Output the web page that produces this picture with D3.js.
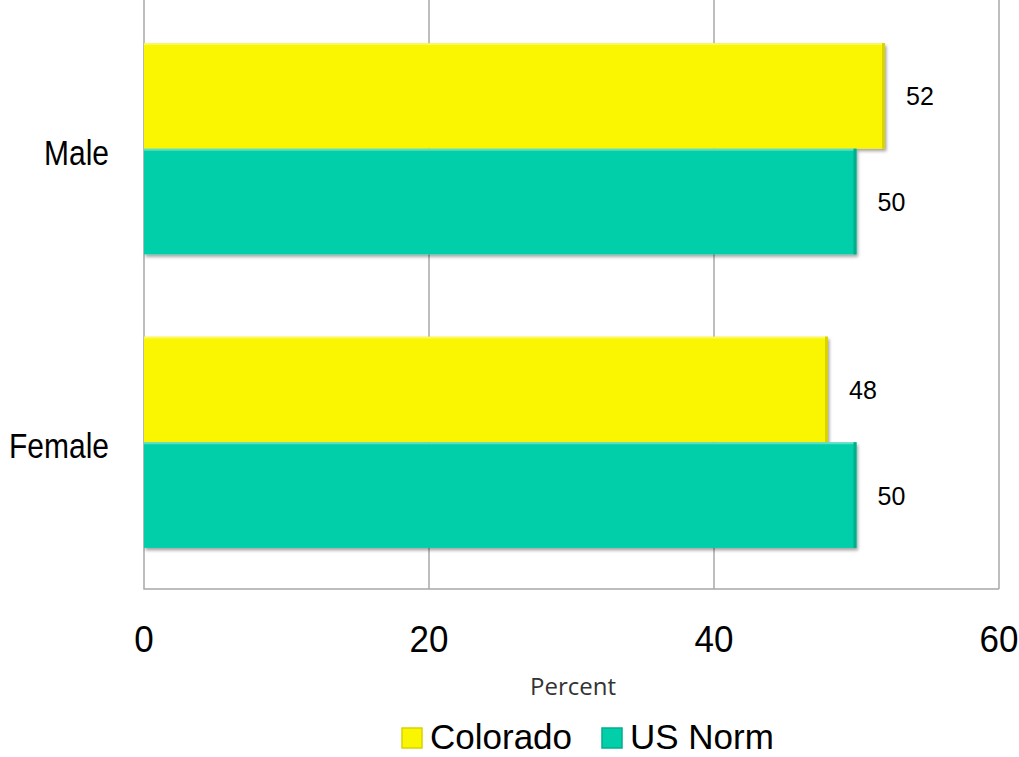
<!DOCTYPE html>
<html>
<head>
<meta charset="utf-8">
<script src="https://cdn.jsdelivr.net/npm/d3@7"></script>
<style>
  html, body { margin: 0; padding: 0; background: #ffffff; }
  svg { display: block; }
</style>
</head>
<body>
<svg id="chart" width="1019" height="757"></svg>
<script>
// Gender split, Colorado vs US norm (percent)
const categories = ["Male", "Female"];
const seriesNames = ["Colorado", "US Norm"];
const coloradoValues = [52, 48];
const usNormValues = [50, 50];
const xTicks = [0, 20, 40, 60];
const seriesColors = ["#FAF500", "#00CFAA"];
const edgeColors = ["#D9D300", "#00AE8E"];
const axisTitle = "Percent";

const rows = categories.map((c, i) => ({
  category: c,
  values: [
    { series: seriesNames[0], value: coloradoValues[i], idx: 0 },
    { series: seriesNames[1], value: usNormValues[i], idx: 1 }
  ]
}));

const svg = d3.select("#chart");
const plotLeft = 144, plotRight = 999, plotTop = 2, plotBottom = 589;

const x = d3.scaleLinear().domain([0, 60]).range([plotLeft, plotRight]);
const y0 = d3.scaleBand().domain(categories).range([plotTop, plotBottom])
  .paddingInner(0.28).paddingOuter(0.14);
const y1 = d3.scaleBand().domain(seriesNames).range([0, y0.bandwidth()]);

// soft drop shadow under the bars
const defs = svg.append("defs");
const f = defs.append("filter").attr("id", "shadow")
  .attr("x", "-5%").attr("y", "-10%").attr("width", "115%").attr("height", "130%");
f.append("feDropShadow").attr("dx", 1.5).attr("dy", 2.5)
  .attr("stdDeviation", 1.8).attr("flood-color", "#000").attr("flood-opacity", 0.35);

// vertical gridlines
svg.append("g").selectAll("line")
  .data(xTicks.filter(t => t > 0))
  .join("line")
  .attr("x1", d => x(d)).attr("x2", d => x(d))
  .attr("y1", 0).attr("y2", plotBottom)
  .attr("stroke", "#a8a8a8").attr("stroke-width", 1.5);

// axis frame (left and bottom)
svg.append("path")
  .attr("d", `M${plotLeft},0V${plotBottom}H${plotRight}`)
  .attr("fill", "none").attr("stroke", "#a8a8a8").attr("stroke-width", 1.5);

// bars
const groups = svg.append("g").selectAll("g")
  .data(rows).join("g")
  .attr("transform", d => `translate(0,${y0(d.category)})`);

const bars = groups.selectAll("g.bar")
  .data(d => d.values).join("g").attr("class", "bar");

bars.append("rect")
  .attr("x", x(0))
  .attr("y", d => y1(d.series))
  .attr("width", d => x(d.value) - x(0))
  .attr("height", y1.bandwidth())
  .attr("fill", d => seriesColors[d.idx])
  .attr("filter", "url(#shadow)");

// bevel: darker right edge, lighter top edge
bars.append("rect")
  .attr("x", d => x(d.value) - 3)
  .attr("y", d => y1(d.series))
  .attr("width", 3)
  .attr("height", y1.bandwidth())
  .attr("fill", d => edgeColors[d.idx]);
bars.append("rect")
  .attr("x", x(0))
  .attr("y", d => y1(d.series))
  .attr("width", d => x(d.value) - x(0) - 3)
  .attr("height", 2)
  .attr("fill", "#ffffff").attr("opacity", 0.35);

// value labels
bars.append("text")
  .attr("x", d => x(d.value) + 21)
  .attr("y", d => y1(d.series) + y1.bandwidth() / 2)
  .attr("dy", "0.38em")
  .attr("font-family", "Liberation Sans, Arial, sans-serif")
  .attr("font-size", 25)
  .attr("fill", "#000")
  .text(d => d.value);

// category labels
svg.append("g").selectAll("text")
  .data(categories).join("text")
  .attr("transform", d => `translate(109,${y0(d) + y0.bandwidth() / 2 + 16}) scale(1,1.15)`)
  .attr("text-anchor", "end")
  .attr("font-family", "Liberation Sans, Arial, sans-serif")
  .attr("font-size", 30)
  .attr("fill", "#000")
  .text(d => d);

// x tick labels
svg.append("g").selectAll("text")
  .data(xTicks).join("text")
  .attr("transform", d => `translate(${x(d)},652) scale(1,1.08)`)
  .attr("text-anchor", "middle")
  .attr("font-family", "Liberation Sans, Arial, sans-serif")
  .attr("font-size", 35)
  .attr("fill", "#000")
  .text(d => d);

// axis title
svg.append("text")
  .attr("x", 573).attr("y", 695)
  .attr("text-anchor", "middle")
  .attr("font-family", "Open Sans, sans-serif")
  .attr("font-size", 24)
  .attr("fill", "#333")
  .text(axisTitle);

// legend
const legendItems = [
  { name: seriesNames[0], sx: 402, tx: 430, idx: 0 },
  { name: seriesNames[1], sx: 602, tx: 630, idx: 1 }
];
const lg = svg.append("g").selectAll("g").data(legendItems).join("g");
lg.append("rect")
  .attr("x", d => d.sx).attr("y", 728)
  .attr("width", 20).attr("height", 20)
  .attr("fill", d => seriesColors[d.idx])
  .attr("stroke", d => edgeColors[d.idx]).attr("stroke-width", 1.5);
lg.append("text")
  .attr("x", d => d.tx).attr("y", 749)
  .attr("font-family", "Liberation Sans, Arial, sans-serif")
  .attr("font-size", 35)
  .attr("fill", "#000")
  .text(d => d.name);
</script>
</body>
</html>
